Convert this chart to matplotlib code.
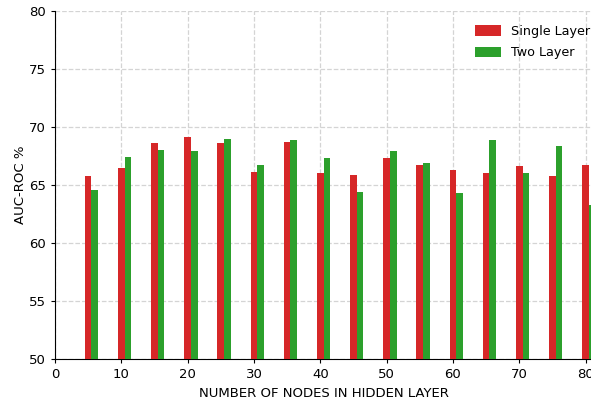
import matplotlib
matplotlib.use('Agg')
import matplotlib.pyplot as plt
import numpy as np

nodes = [5, 10, 15, 20, 25, 30, 35, 40, 45, 50, 55, 60, 65, 70, 75, 80]
single_layer = [65.8, 66.5, 68.6, 69.1, 68.6, 66.1, 68.7, 66.0, 65.9, 67.3, 66.7, 66.3, 66.0, 66.6, 65.8, 66.7]
two_layer = [64.6, 67.4, 68.0, 67.9, 69.0, 66.7, 68.9, 67.3, 64.4, 67.9, 66.9, 64.3, 68.9, 66.0, 68.4, 63.3]

fig = plt.figure(figsize=(5.91, 4.07), dpi=100)
ax = fig.add_axes([0.093, 0.118, 0.909, 0.855])

x = np.array(nodes)
ax.bar(x, single_layer, width=1.0, color='#d62728', label='Single Layer', zorder=3)
ax.bar(x + 1.0, two_layer, width=1.0, color='#2ca02c', label='Two Layer', zorder=3)

ax.set_xlim(0, 81)
ax.set_ylim(50, 80)
ax.set_xticks(range(0, 81, 10))
ax.set_yticks(range(50, 81, 5))
ax.grid(True, linestyle='--', color='#d4d4d4', linewidth=0.9, zorder=0)
ax.spines['top'].set_visible(False)
ax.spines['right'].set_visible(False)
ax.tick_params(labelsize=9.5, length=3)
ax.set_xlabel('NUMBER OF NODES IN HIDDEN LAYER', fontsize=9.5)
ax.set_ylabel('AUC-ROC %', fontsize=9.5, labelpad=1.5)
ax.legend(loc='upper right', bbox_to_anchor=(1.013, 0.985), frameon=False,
          fontsize=9.2, handlelength=2.0, handleheight=0.9, labelspacing=0.65,
          borderaxespad=0.3)

fig.savefig('out.png', dpi=100)
